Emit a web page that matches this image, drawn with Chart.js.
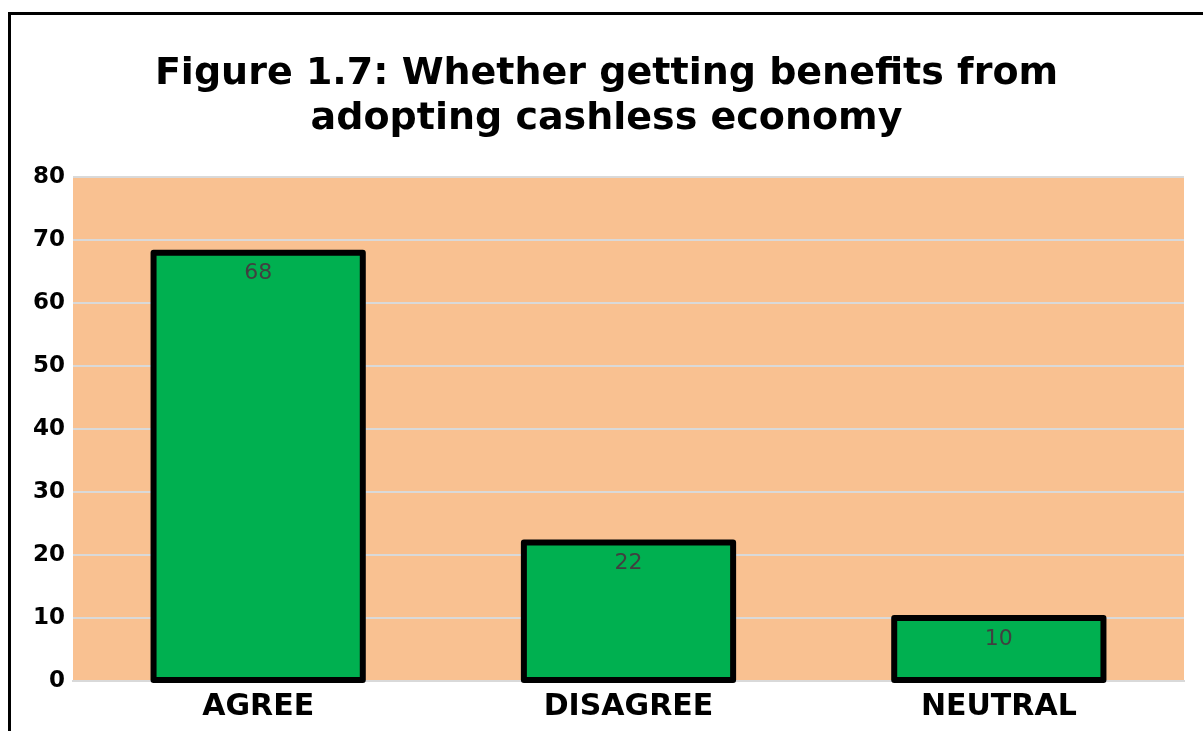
<!DOCTYPE html>
<html>
<head>
<meta charset="utf-8">
<script src="https://cdn.jsdelivr.net/npm/chart.js@4"></script>
<style>
  html, body { margin: 0; padding: 0; background: #fff; overflow: hidden; }
  #frame { position: absolute; left: 8px; top: 12px; width: 1240px; height: 760px; border: 3px solid #000; }
  #wrap { position: absolute; left: 0; top: 0; width: 1192px; height: 716px; }
</style>
</head>
<body>
<div id="frame"><div id="wrap"><canvas id="myChart"></canvas></div></div>
<script>
//Chart values
var categories = ["AGREE", "DISAGREE", "NEUTRAL"];
var responses = [68, 22, 10];
var yTicks = [0, 10, 20, 30, 40, 50, 60, 70, 80];
var titleLines = ["Figure 1.7: Whether getting benefits from", "adopting cashless economy"];

//Orange plot area behind the grid
var plotBackground = {
  id: 'plotBackground',
  beforeDraw: function(chart) {
    var a = chart.chartArea, c = chart.ctx;
    c.save();
    c.fillStyle = '#F9C191';
    c.fillRect(a.left, a.top, a.right - a.left, a.bottom - a.top);
    c.restore();
  }
};

//Black outline centred on the bar edges (like the original), then value labels
var barLabels = {
  id: 'barLabels',
  afterDatasetsDraw: function(chart) {
    var c = chart.ctx;
    var meta = chart.getDatasetMeta(0);
    c.save();
    c.strokeStyle = '#000';
    c.lineWidth = 6;
    c.lineJoin = 'round';
    meta.data.forEach(function(bar) {
      c.strokeRect(bar.x - bar.width / 2, bar.y, bar.width, bar.base - bar.y);
    });
    c.font = '22px "DejaVu Sans"';
    c.fillStyle = '#404040';
    c.textAlign = 'center';
    c.textBaseline = 'middle';
    meta.data.forEach(function(bar, i) {
      c.fillText(String(responses[i]), bar.x, bar.y + 21);
    });
    c.restore();
  }
};

var ctx = document.getElementById("myChart");
var myChart = new Chart(ctx, {
  type: 'bar',
  data: {
    labels: categories,
    datasets: [{
      data: responses,
      backgroundColor: '#00B050',
      borderWidth: 0,
      barPercentage: 0.565,
      categoryPercentage: 1
    }]
  },
  options: {
    responsive: true,
    maintainAspectRatio: false,
    animation: false,
    layout: { padding: { left: 18, right: 19, top: 36, bottom: 6 } },
    plugins: {
      legend: { display: false },
      tooltip: { enabled: false },
      title: {
        display: true,
        text: titleLines,
        color: '#000',
        font: { family: '"DejaVu Sans"', size: 38, weight: 'bold', lineHeight: 1.2 },
        padding: { top: 0, bottom: 35 }
      }
    },
    scales: {
      x: {
        grid: { display: false },
        border: { display: true, color: '#D9D9D9', width: 2 },
        ticks: {
          color: '#000',
          font: { family: '"DejaVu Sans"', size: 30, weight: 'bold' },
          padding: 0
        }
      },
      y: {
        min: 0,
        max: 80,
        afterFit: function(s) { s.width = 44; },
        afterBuildTicks: function(s) { s.ticks = yTicks.map(function(v) { return { value: v }; }); },
        grid: { color: '#D9D9D9', lineWidth: 2, drawTicks: false },
        border: { display: false },
        ticks: {
          color: '#000',
          font: { family: '"DejaVu Sans"', size: 23, weight: 'bold' },
          padding: 8
        }
      }
    }
  },
  plugins: [plotBackground, barLabels]
});
</script>
</body>
</html>
